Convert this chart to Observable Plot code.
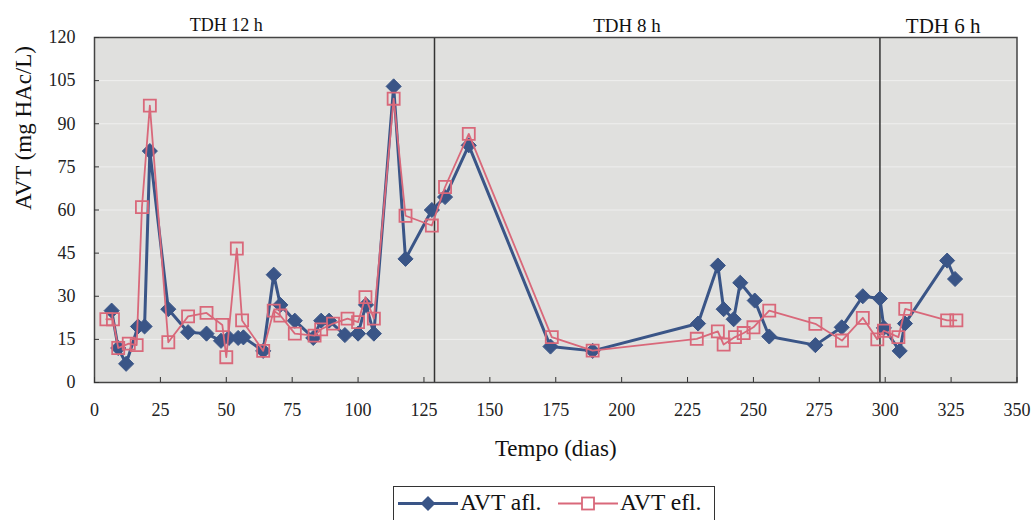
<!DOCTYPE html>
<html><head><meta charset="utf-8">
<script src="https://cdn.jsdelivr.net/npm/d3@7"></script>
<script src="https://cdn.jsdelivr.net/npm/@observablehq/plot@0.6"></script>
<style>
body{margin:0;background:#fff;font-family:"Liberation Serif","Tinos","Times New Roman","DejaVu Serif",serif;}
#wrap{position:relative;width:1033px;height:520px;overflow:hidden}
#legend{position:absolute;left:393px;top:486px;width:320px;height:33px;border:1.5px solid #333;background:#fff;font-size:23.5px;color:#111}
#legend svg{position:absolute;top:0}
#legend span{position:absolute;top:2px;white-space:nowrap}
#chart svg text{font-family:"Liberation Serif","Tinos","Times New Roman","DejaVu Serif",serif;}
</style></head><body>
<div id="wrap"><div id="chart"></div><div id="legend"></div></div>
<script>
// Tempo (dias) and AVT values, afluente
const aflDays = [6.5, 9, 12, 16.5, 19, 21, 28, 35.5, 42.5, 48, 51, 54.5, 56.5, 64, 68, 70.5, 76, 83, 86, 89, 95, 100, 103, 106, 113.5, 118, 128, 133, 142, 173, 189, 229, 236.5, 238.7, 242.5, 245, 250.5, 256, 273.5, 283.5, 291.5, 298, 299.5, 305.5, 307.5, 323.5, 326.5];
const aflValues = [25, 12, 6.5, 19.5, 19.5, 80.5, 25.5, 17.5, 17, 14.5, 15.5, 15.5, 15.7, 11, 37.5, 27, 21.5, 15.5, 21.5, 21.5, 16.5, 17, 27, 17, 103, 43, 60, 64.5, 82.5, 12.5, 11, 20.5, 40.7, 25.5, 22, 34.7, 28.5, 16, 13, 19.2, 30, 29.2, 19, 11, 20.5, 42.4, 36];
// efluente
const eflDays = [4.5, 7, 9, 13, 16, 18, 21, 28, 35.5, 42.5, 48.5, 50, 54, 56, 64, 68, 70.5, 76, 83.5, 86, 90.5, 96, 100, 102.8, 106, 113.5, 118, 128, 133, 142, 173.5, 189, 228.5, 236.5, 238.7, 243, 246.3, 250, 256, 273.5, 283.6, 291.5, 297, 299.5, 305, 307.6, 323.5, 327];
const eflValues = [22, 22, 12, 13.5, 13, 61, 96.3, 14, 23, 24.2, 20, 8.8, 46.6, 21.6, 11, 25, 23.3, 17, 16.3, 18.5, 20.5, 22.2, 21, 29.7, 22.2, 98.7, 58, 54.6, 68, 86.5, 15.8, 11.1, 15.2, 17.8, 13.2, 15.8, 17.2, 19.2, 25, 20.4, 14.6, 22.5, 15, 18, 15.8, 25.6, 21.6, 21.6];

const xTicks = [0, 25, 50, 75, 100, 125, 150, 175, 200, 225, 250, 275, 300, 325, 350];
const yTicks = [0, 15, 30, 45, 60, 75, 90, 105, 120];
const phaseBounds = [129, 298];
const phaseLabels = ["TDH 12 h", "TDH 8 h", "TDH 6 h"];
const phaseLabelDays = [50, 202, 322];
const phaseLabelSizes = [18, 19, 21];
const seriesNames = ["AVT afl.", "AVT efl."];
const xLabel = "Tempo (dias)";
const yLabel = "AVT (mg HAc/L)";

const serif = "'Liberation Serif','Tinos','Times New Roman','DejaVu Serif',serif";
const blue = "#3a5587", pink = "#d9687a";
const afl = aflDays.map((d, i) => ({day: d, v: aflValues[i]}));
const efl = eflDays.map((d, i) => ({day: d, v: eflValues[i]}));
const phases = phaseLabels.map((l, i) => ({label: l, day: phaseLabelDays[i], size: phaseLabelSizes[i]}));

const W = 1033, H = 470, mL = 94, mR = 16.5, mT = 37, mB = 88;
const plotW = W - mL - mR, plotH = H - mT - mB;

const chart = Plot.plot({
  width: W, height: H,
  marginLeft: mL, marginRight: mR, marginTop: mT, marginBottom: mB,
  style: {fontFamily: serif, fontSize: "18px", color: "#222", background: "transparent", overflow: "visible"},
  x: {domain: [0, 350]},
  y: {domain: [0, 120]},
  marks: [
    Plot.frame({fill: "#e0e0de"}),
    Plot.ruleY(yTicks.slice(1, -1), {stroke: "#f3f3f3", strokeWidth: 1, strokeOpacity: 0.8}),
    Plot.ruleX(phaseBounds, {stroke: "#333", strokeWidth: 1.5}),
    Plot.line(afl, {x: "day", y: "v", stroke: blue, strokeWidth: 3}),
    Plot.dot(afl, {x: "day", y: "v", symbol: "diamond2", r: 6.8, fill: blue, stroke: blue, strokeWidth: 1}),
    Plot.line(efl, {x: "day", y: "v", stroke: pink, strokeWidth: 1.8}),
    Plot.dot(efl, {x: "day", y: "v", symbol: "square", r: 6.8, fill: "none", stroke: pink, strokeWidth: 1.8}),
    Plot.frame({stroke: "#444", strokeWidth: 1.5}),
    Plot.ruleX(xTicks, {insetTop: plotH - 5, stroke: "#333"}),
    Plot.ruleY(yTicks, {insetRight: plotW - 5, stroke: "#333"}),
    Plot.axisX({ticks: xTicks, tickSize: 0, tickPadding: 21, tickFormat: d => String(d), label: null, fontSize: 18}),
    Plot.axisY({ticks: yTicks, tickSize: 0, tickPadding: 19, tickFormat: d => String(d), label: null, fontSize: 18}),
    Plot.text(phases, {x: "day", text: "label", frameAnchor: "top", dy: -19, fontSize: d => d.size, fill: "#111"}),
    Plot.text([xLabel], {frameAnchor: "bottom", dy: 73, fontSize: 23, fill: "#111"}),
    Plot.text([yLabel], {frameAnchor: "left", dx: -71, rotate: -90, fontSize: 23, fill: "#111"})
  ]
});
document.getElementById("chart").appendChild(chart);

// legend
const lg = d3.select("#legend");
const items = [
  {name: seriesNames[0], color: blue, sym: "diamond", left: 4, textLeft: 66},
  {name: seriesNames[1], color: pink, sym: "square", left: 164, textLeft: 226}
];
items.forEach(it => {
  const s = lg.append("svg").attr("width", 62).attr("height", 33).style("left", it.left + "px");
  s.append("line").attr("x1", 0).attr("x2", 60).attr("y1", 16.5).attr("y2", 16.5)
    .attr("stroke", it.color).attr("stroke-width", it.sym === "diamond" ? 3 : 1.8);
  if (it.sym === "diamond") {
    s.append("path").attr("d", "M30,9 L37.5,16.5 L30,24 L22.5,16.5 Z").attr("fill", it.color);
  } else {
    s.append("rect").attr("x", 24).attr("y", 10.5).attr("width", 12).attr("height", 12)
      .attr("fill", "#fff").attr("stroke", it.color).attr("stroke-width", 1.8);
  }
  lg.append("span").text(it.name).style("left", it.textLeft + "px");
});
</script>
</body></html>
